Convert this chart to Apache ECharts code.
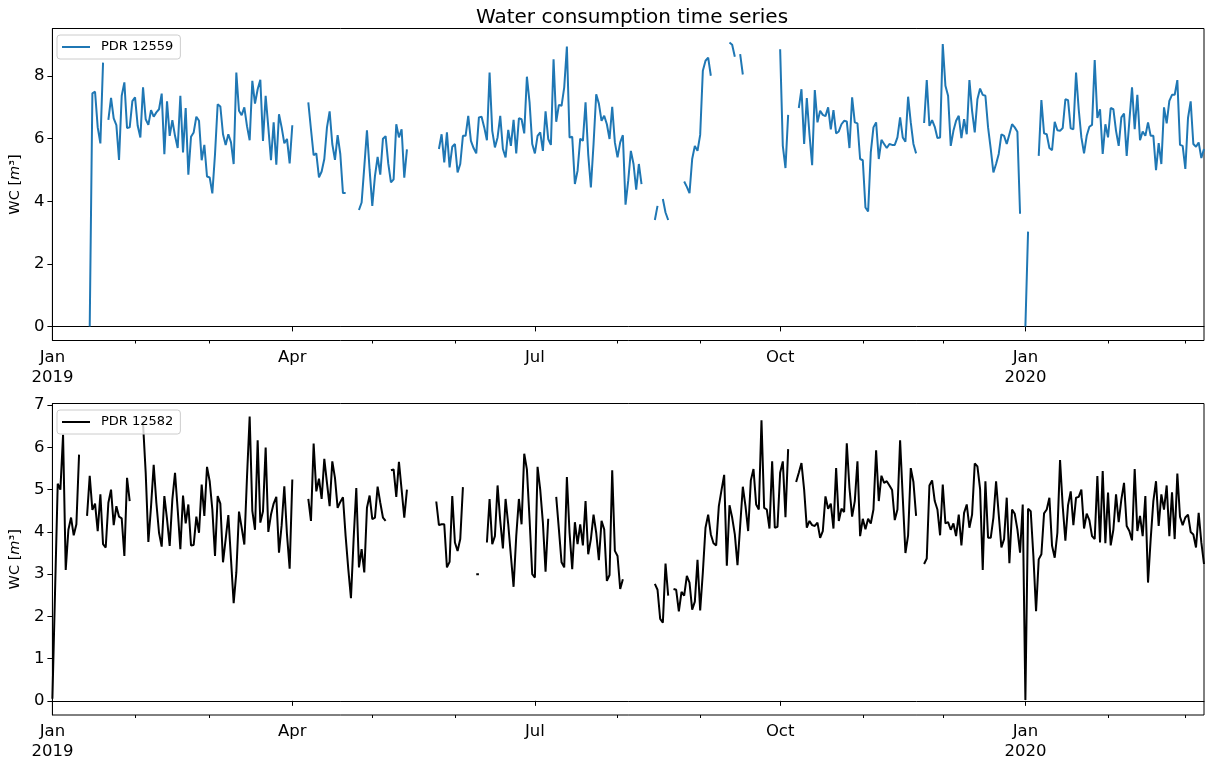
<!DOCTYPE html>
<html>
<head>
<meta charset="utf-8">
<title>Water consumption time series</title>
<script src="https://cdn.jsdelivr.net/npm/echarts@6/dist/echarts.min.js"></script>
<style>
  html, body { margin: 0; padding: 0; background: #fff; }
  #chart { width: 1206px; height: 762px; }
</style>
</head>
<body>
<div id="chart"></div>
<script>
// Daily index: 2019-01-01 .. 2020-03-08
const START_YEAR = 2019;
const N_DAYS = 433;
const MONTHS = ['Jan', 'Feb', 'Mar', 'Apr', 'May', 'Jun', 'Jul', 'Aug', 'Sep', 'Oct', 'Nov', 'Dec'];
const yTicksTop = [0, 2, 4, 6, 8];
const yTicksBottom = [0, 1, 2, 3, 4, 5, 6, 7];

// Meter PDR 12559: [first day index, daily values]; days not listed are missing
const pdr12559Segments = [
  [14, [0, 7.45, 7.5, 6.36, 5.85, 8.43]],
  [21, [6.6, 7.3, 6.65, 6.43, 5.32, 7.37, 7.8, 6.34, 6.36, 7.2,
        7.32, 6.41, 6.04, 7.64, 6.62, 6.44, 6.91, 6.7, 6.84, 6.94,
        7.44, 5.5, 7.19, 6.09, 6.59, 6.09, 5.7, 7.37, 5.56, 6.98,
        4.85, 6.06, 6.2, 6.7, 6.57, 5.31, 5.8, 4.79, 4.76, 4.25,
        5.5, 7.1, 7.03, 6.14, 5.8, 6.14, 5.88, 5.19, 8.11, 6.89,
        6.75, 7.0, 6.4, 5.95, 7.85, 7.12, 7.58, 7.88, 5.93, 7.37,
        6.36, 5.31, 6.52, 5.17, 6.78, 6.36, 5.85, 5.99, 5.21, 6.43]],
  [96, [7.16, 6.3, 5.47, 5.53, 4.76, 4.95, 5.35, 6.36, 6.87, 5.83,
        5.32, 6.11, 5.51, 4.26, 4.26]],
  [115, [3.72, 3.96, 5.1, 6.27, 5.0, 3.85, 4.8, 5.42, 4.85, 6.0,
         6.08, 5.2, 4.6, 4.7, 6.46, 6.04, 6.3, 4.75, 5.66]],
  [145, [5.67, 6.14, 5.24, 6.2, 5.08, 5.74, 5.83, 4.92, 5.19, 6.09,
         6.09, 6.73, 5.93, 5.7, 5.53, 6.68, 6.7, 6.36, 5.95, 8.11,
         6.25, 5.72, 6.04, 6.73, 5.67, 5.4, 6.28, 5.77, 6.6, 5.53,
         6.65, 6.62, 6.17, 7.98, 7.16, 5.83, 5.53, 6.09, 6.2, 5.61,
         6.87, 5.99, 5.8, 8.54, 6.54, 7.08, 7.05, 7.64, 8.94, 6.04,
         6.06, 4.55, 4.97, 6.0, 5.93, 7.16, 5.5, 4.44, 5.83, 7.42,
         7.12, 6.57, 6.73, 6.46, 5.99, 7.02, 5.88, 5.4, 5.88, 6.11,
         3.89, 4.65, 5.61, 5.19, 4.37, 5.19, 4.55]],
  [226, [3.4, 3.85]],
  [229, [4.07, 3.64, 3.4]],
  [237, [4.63, 4.46, 4.26, 5.35, 5.77, 5.61, 6.12, 8.17, 8.49, 8.59, 8.01]],
  [254, [9.07, 9.0, 8.62]],
  [258, [8.7, 8.05]],
  [273, [8.86, 5.77, 5.06, 6.76]],
  [280, [6.98, 7.58, 5.83, 7.3, 6.14, 5.15, 7.55, 6.52, 6.89, 6.76,
         6.72, 7.0, 6.3, 6.91, 6.17, 6.23, 6.46, 6.57, 6.55, 5.7,
         7.32, 6.52, 6.49, 5.35, 5.31, 3.8, 3.67, 5.56, 6.36, 6.52,
         5.35, 5.96, 5.83, 5.7, 5.83, 5.8, 5.8, 6.04, 6.68, 6.04,
         5.9, 7.34, 6.52, 5.83, 5.53]],
  [327, [6.5, 7.87, 6.41, 6.59, 6.38, 6.02, 6.04, 9.02, 7.69, 7.37,
         5.77, 6.25, 6.57, 6.73, 6.02, 6.62, 6.14, 7.87, 6.89, 6.2,
         7.26, 7.6, 7.4, 7.37, 6.36, 5.67, 4.92, 5.19, 5.51, 6.14,
         6.09, 5.83, 6.14, 6.46, 6.36, 6.22, 3.6]],
  [365, [0, 3.03]],
  [370, [5.45, 7.23, 6.17, 6.14, 5.7, 5.63, 6.54, 6.27, 6.25, 6.34,
         7.26, 7.23, 6.33, 6.3, 8.11, 6.94, 6.04, 5.53, 6.09, 6.38,
         6.44, 8.51, 6.66, 6.94, 5.51, 6.46, 6.04, 6.98, 6.94, 6.25,
         5.77, 6.68, 6.8, 5.45, 6.57, 7.64, 6.3, 7.4, 5.95, 6.23,
         6.09, 6.52, 6.09, 6.09, 4.99, 5.86, 5.19, 7.0, 6.49, 7.21,
         7.4, 7.4, 7.87, 5.8, 5.77, 5.03, 6.66, 7.19, 5.83, 5.74,
         5.88, 5.38, 5.67]]
];

// Meter PDR 12582
const pdr12582Segments = [
  [0, [0.05, 2.6, 5.14, 5.0, 6.3, 3.1, 4.05, 4.34, 3.92, 4.18, 5.83]],
  [13, [4.38, 5.33, 4.52, 4.67, 4.02, 4.89, 3.71, 3.63, 4.69, 5.0,
        4.16, 4.61, 4.36, 4.32, 3.43, 5.28, 4.73]],
  [34, [6.57, 5.4, 3.76, 4.6, 5.59, 4.69, 3.98, 3.65, 4.85, 4.3,
        3.67, 4.77, 5.4, 4.53, 3.59, 4.86, 4.2, 4.65, 3.68, 3.69,
        4.36, 3.98, 5.12, 4.38, 5.54, 5.2, 4.53, 3.43, 4.85, 4.67,
        3.28, 3.83, 4.4, 3.35, 2.31, 3.04, 4.48, 4.1, 3.7, 5.3,
        6.73, 4.5, 4.05, 6.17, 4.22, 4.49, 6.0, 4.0, 4.41, 4.67,
        4.83, 3.51, 4.16, 5.08, 3.94, 3.13, 5.24]],
  [96, [4.78, 4.26, 6.09, 4.96, 5.26, 4.78, 5.73, 5.16, 4.61, 5.67,
        5.28, 4.57, 4.71, 4.82, 3.9, 3.12, 2.43, 3.83, 5.04, 3.16,
        3.59, 3.04, 4.57, 4.86, 4.3, 4.34, 5.07, 4.69, 4.34, 4.26]],
  [127, [5.46, 5.48, 4.83, 5.66, 5.0, 4.34, 5.0]],
  [144, [4.72, 4.16, 4.18, 4.18, 3.16, 3.29, 4.85, 3.75, 3.55, 3.83, 5.06]],
  [159, [3.0, 3.0]],
  [163, [3.75, 4.78, 3.71, 3.9, 5.1, 4.26, 3.61, 4.78, 4.18, 3.43,
         2.7, 3.9, 4.78, 4.18, 5.85, 5.48, 4.3, 3.0, 2.92, 5.54,
         5.0, 4.22, 3.06, 4.31]],
  [189, [4.83, 4.06, 3.28, 3.16, 5.3, 3.98, 3.12, 4.23, 3.71, 4.18,
         3.68, 4.73, 3.47, 3.83, 4.41, 3.98, 3.33, 4.26, 4.06, 2.84,
         2.98, 5.46, 3.55, 3.43, 2.65, 2.88]],
  [226, [2.77, 2.63, 1.94, 1.85, 3.25, 2.49]],
  [233, [2.65, 2.63, 2.12, 2.58, 2.49, 2.96, 2.8, 2.16, 2.35, 3.34,
         2.14, 3.04, 4.1, 4.41, 3.94, 3.73, 3.68, 4.61, 4.99, 5.35,
         3.2, 4.63, 4.34, 3.94, 3.21, 4.14, 5.07, 4.61, 4.02, 5.22,
         5.49, 4.65, 4.53, 6.64, 4.57, 4.53, 4.08, 5.67, 4.1, 4.12,
         5.4, 5.67, 4.35, 5.96]],
  [279, [5.18, 5.4, 5.63, 5.0, 4.1, 4.26, 4.16, 4.14, 4.22, 3.86,
         4.02, 4.84, 4.55, 4.67, 4.08, 5.51, 4.26, 4.55, 4.47, 6.1,
         5.04, 4.36, 4.73, 5.67, 3.9, 4.31, 4.06, 4.31, 4.2, 4.53,
         5.93, 4.73, 5.33, 5.16, 5.2, 5.1, 4.99, 4.28, 4.53, 6.17,
         4.81, 3.5, 3.92, 5.51, 5.18, 4.38]],
  [327, [3.24, 3.37, 5.1, 5.22, 4.73, 4.53, 3.92, 5.12, 4.2, 4.23,
         4.05, 4.2, 3.9, 4.41, 3.68, 4.45, 4.65, 4.1, 4.41, 5.62,
         5.55, 5.02, 3.1, 5.2, 3.86, 3.86, 4.34, 5.2, 4.41, 3.63,
         3.83, 4.81, 3.26, 4.53, 4.43, 4.06, 3.51, 4.65, 0.02, 4.55,
         4.49, 3.43, 2.12, 3.35, 3.47, 4.44, 4.53, 4.81, 3.67, 3.39,
         3.98, 5.7, 4.61, 3.79, 4.63, 4.96, 4.16, 4.81, 4.83, 5.0,
         4.08, 4.43, 4.28, 3.9, 3.83, 5.32, 3.75, 5.44, 3.73, 4.93,
         3.68, 4.05, 4.89, 4.23, 4.77, 5.16, 4.14, 4.02, 3.8, 5.49,
         4.02, 4.38, 3.9, 4.85, 2.8, 3.83, 4.73, 5.2, 4.14, 4.89,
         4.53, 5.1, 3.9, 4.94, 3.83, 5.38, 4.36, 4.16, 4.34, 4.41,
         4.0, 3.94, 3.63, 4.45, 3.75, 3.24]]
];

// ---- build the daily category list and the gap-aware value arrays ----
const dates = [];
for (let i = 0; i < N_DAYS; i++) {
  const d = new Date(Date.UTC(START_YEAR, 0, 1 + i));
  dates.push(d.toISOString().slice(0, 10));
}

function expand(segments) {
  const out = new Array(N_DAYS).fill(null);
  segments.forEach(([start, vals]) => {
    vals.forEach((v, k) => { out[start + k] = v; });
  });
  return out;
}

const seriesTop = expand(pdr12559Segments);
const seriesBottom = expand(pdr12582Segments);

const isMonthStart = v => v.slice(8, 10) === '01';
const isQuarterStart = v => isMonthStart(v) && ['01', '04', '07', '10'].includes(v.slice(5, 7));
const isMinorTick = v => isMonthStart(v) && !isQuarterStart(v);

function dateLabel(v) {
  const m = parseInt(v.slice(5, 7), 10);
  return m === 1 ? MONTHS[0] + '\n' + v.slice(0, 4) : MONTHS[m - 1];
}

const FONT = 'DejaVu Sans';
const AXIS_COLOR = '#000';

function majorXAxis(gridIndex) {
  return {
    type: 'category', gridIndex, data: dates, boundaryGap: false, position: 'bottom',
    axisLine: { show: true, lineStyle: { color: AXIS_COLOR, width: 1 } },
    axisTick: { show: true, interval: (i, v) => isQuarterStart(v), length: 5, lineStyle: { color: AXIS_COLOR, width: 1 } },
    axisLabel: {
      show: true, interval: (i, v) => isQuarterStart(v), formatter: dateLabel,
      fontFamily: FONT, fontSize: 16.5, color: '#000', margin: 7, lineHeight: 20
    },
    splitLine: { show: false }
  };
}

function minorXAxis(gridIndex) {
  return {
    type: 'category', gridIndex, data: dates, boundaryGap: false, position: 'bottom',
    axisLine: { show: false },
    axisTick: { show: true, interval: (i, v) => isMinorTick(v), length: 3, lineStyle: { color: AXIS_COLOR, width: 1 } },
    axisLabel: { show: false },
    splitLine: { show: false }
  };
}

function yAxis(gridIndex, min, max, ticks) {
  return {
    type: 'value', gridIndex, min, max,
    name: 'WC [{i|m}³]',
    nameLocation: 'middle', nameGap: 23, nameRotate: 90,
    nameTextStyle: {
      fontFamily: FONT, fontSize: 14.5, color: '#000',
      rich: { i: { fontFamily: FONT, fontSize: 14.5, fontStyle: 'italic', color: '#000' } }
    },
    axisLine: { show: true, lineStyle: { color: AXIS_COLOR, width: 1 } },
    axisTick: { show: true, customValues: ticks, length: 5, lineStyle: { color: AXIS_COLOR, width: 1 } },
    axisLabel: { show: true, customValues: ticks, fontFamily: FONT, fontSize: 16.5, color: '#000', margin: 8 },
    splitLine: { show: false }
  };
}

function legend(name, color, top) {
  return {
    data: [{ name, icon: 'rect', itemStyle: { color } }],
    left: 57, top,
    orient: 'horizontal',
    itemWidth: 28, itemHeight: 2,
    padding: [4, 7, 4, 5],
    backgroundColor: 'rgba(255,255,255,0.8)',
    borderColor: '#cccccc', borderWidth: 1, borderRadius: 3,
    textStyle: { fontFamily: FONT, fontSize: 13, color: '#000', padding: [0, 0, 0, 6], lineHeight: 16 }
  };
}

const chart = echarts.init(document.getElementById('chart'), null, { renderer: 'canvas' });
chart.setOption({
  animation: false,
  backgroundColor: '#fff',
  title: {
    text: 'Water consumption time series', left: 627, top: 3, textAlign: 'center',
    textStyle: { fontFamily: FONT, fontSize: 20, fontWeight: 'normal', color: '#000' }
  },
  legend: [legend('PDR 12559', '#1f77b4', 35), legend('PDR 12582', '#000', 410)],
  grid: [
    { left: 50.5, top: 28.5, width: 1153.5, height: 312, show: true, borderColor: AXIS_COLOR, borderWidth: 1, backgroundColor: 'transparent' },
    { left: 50.5, top: 403.5, width: 1153.5, height: 312.5, show: true, borderColor: AXIS_COLOR, borderWidth: 1, backgroundColor: 'transparent' }
  ],
  xAxis: [majorXAxis(0), minorXAxis(0), majorXAxis(1), minorXAxis(1)],
  yAxis: [yAxis(0, -0.45, 9.52, yTicksTop), yAxis(1, -0.335, 7.04, yTicksBottom)],
  series: [
    {
      name: 'PDR 12559', type: 'line', xAxisIndex: 0, yAxisIndex: 0, data: seriesTop,
      showSymbol: false, symbol: 'none', connectNulls: false,
      lineStyle: { color: '#1f77b4', width: 2 }, itemStyle: { color: '#1f77b4' }
    },
    {
      name: 'PDR 12582', type: 'line', xAxisIndex: 2, yAxisIndex: 1, data: seriesBottom,
      showSymbol: false, symbol: 'none', connectNulls: false,
      lineStyle: { color: '#000', width: 2 }, itemStyle: { color: '#000' }
    }
  ]
});
</script>
</body>
</html>
